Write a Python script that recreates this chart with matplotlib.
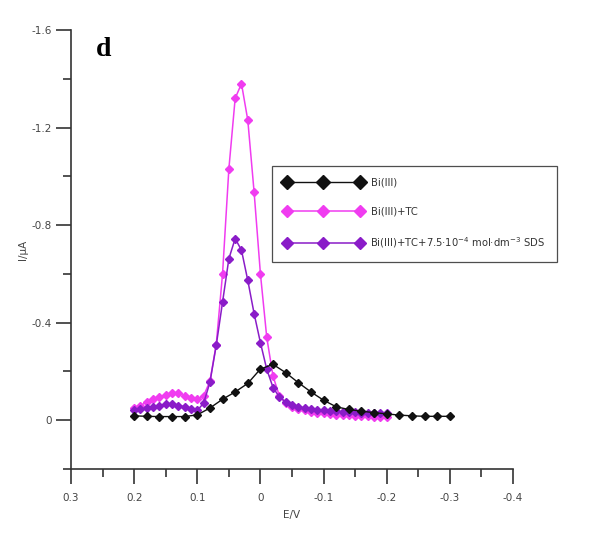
import numpy as np
import matplotlib
matplotlib.use("Agg")
import matplotlib.pyplot as plt
from matplotlib.ticker import MultipleLocator

# ---- data ----
E_bi = [0.20, 0.18, 0.16, 0.14, 0.12, 0.10, 0.08, 0.06, 0.04, 0.02, 0.00,
        -0.02, -0.04, -0.06, -0.08, -0.10, -0.12, -0.14, -0.16, -0.18, -0.20,
        -0.22, -0.24, -0.26, -0.28, -0.30]
I_bi = [-0.018, -0.016, -0.015, -0.015, -0.015, -0.022, -0.050, -0.086, -0.116, -0.151, -0.210,
        -0.229, -0.195, -0.154, -0.116, -0.082, -0.055, -0.044, -0.037, -0.031, -0.026,
        -0.021, -0.018, -0.016, -0.016, -0.016]

E_tc = [0.20, 0.19, 0.18, 0.17, 0.16, 0.15, 0.14, 0.13, 0.12, 0.11, 0.10,
        0.09, 0.08, 0.07, 0.06, 0.05, 0.04, 0.03, 0.02, 0.01, 0.00,
        -0.01, -0.02, -0.03, -0.04, -0.05, -0.06, -0.07, -0.08, -0.09, -0.10,
        -0.11, -0.12, -0.13, -0.14, -0.15, -0.16, -0.17, -0.18, -0.19, -0.20]
I_tc = [-0.050, -0.060, -0.075, -0.085, -0.095, -0.105, -0.110, -0.110, -0.100, -0.090, -0.085,
        -0.100, -0.160, -0.310, -0.600, -1.030, -1.320, -1.380, -1.230, -0.935, -0.600,
        -0.340, -0.180, -0.100, -0.070, -0.055, -0.045, -0.040, -0.035, -0.030, -0.028,
        -0.025, -0.023, -0.021, -0.020, -0.018, -0.017, -0.016, -0.015, -0.015, -0.015]

E_sds = E_tc
I_sds = [-0.040, -0.045, -0.050, -0.055, -0.060, -0.065, -0.065, -0.060, -0.055, -0.045, -0.040,
         -0.070, -0.155, -0.307, -0.484, -0.662, -0.745, -0.697, -0.573, -0.437, -0.318,
         -0.209, -0.134, -0.095, -0.075, -0.062, -0.055, -0.050, -0.046, -0.043, -0.040,
         -0.038, -0.036, -0.034, -0.033, -0.032, -0.031, -0.030, -0.029, -0.028, -0.028]

labels = ["Bi(III)", "Bi(III)+TC", "Bi(III)+TC+7.5·10$^{-4}$ mol·dm$^{-3}$ SDS"]
colors = ["#111111", "#f03cf0", "#8a1cc8"]

x_ticks = [0.3, 0.2, 0.1, 0.0, -0.1, -0.2, -0.3, -0.4]
x_ticklabels = ["0.3", "0.2", "0.1", "0", "-0.1", "-0.2", "-0.3", "-0.4"]
y_ticks = [-1.6, -1.2, -0.8, -0.4, 0.0]
y_ticklabels = ["-1.6", "-1.2", "-0.8", "-0.4", "0"]

# ---- figure ----
fig = plt.figure(figsize=(5.9, 5.4), dpi=100)
ax = fig.add_axes([71/590, 1-469/540, (513-71)/590, (469-30)/540])

ax.plot(E_tc, I_tc, color=colors[1], lw=1.1, marker="D", ms=3.6, mec=colors[1], label=labels[1], zorder=2)
ax.plot(E_sds, I_sds, color=colors[2], lw=1.1, marker="D", ms=3.6, mec=colors[2], label=labels[2], zorder=3)
ax.plot(E_bi, I_bi, color=colors[0], lw=1.0, marker="D", ms=4.0, mec=colors[0], label=labels[0], zorder=4)

ax.set_xlim(0.3, -0.4)
ax.set_ylim(0.2, -1.6)
ax.set_xticks(x_ticks)
ax.set_xticklabels(x_ticklabels)
ax.set_yticks(y_ticks)
ax.set_yticklabels(y_ticklabels)
ax.xaxis.set_minor_locator(MultipleLocator(0.05))
ax.yaxis.set_minor_locator(MultipleLocator(0.2))

for s in ["top", "right"]:
    ax.spines[s].set_visible(False)
for s in ["left", "bottom"]:
    ax.spines[s].set_linewidth(1.2)
    ax.spines[s].set_color("#333333")

ax.tick_params(axis="both", which="major", direction="out", length=10.5, width=1.2,
               color="#333333", labelsize=7.5, labelcolor="#444444")
ax.tick_params(axis="both", which="minor", direction="out", length=5.5, width=1.2, color="#333333")
ax.tick_params(axis="x", which="major", pad=7)
ax.tick_params(axis="y", which="major", pad=3)

ax.set_xlabel("E/V", fontsize=7.5, color="#444444", labelpad=5)
ax.set_ylabel("I/μA", fontsize=7.5, color="#444444", labelpad=3)

fig.text(104/590, 1-50/540, "d", fontsize=20, fontweight="bold",
         family=["Liberation Serif", "DejaVu Serif"], ha="center", va="center")

h, l = ax.get_legend_handles_labels()
order = [2, 0, 1]
leg = fig.legend([h[i] for i in order], [l[i] for i in order],
                 loc="upper left", bbox_to_anchor=(272/590, 1-166/540),
                 numpoints=3, markerscale=1.7, fontsize=7.2, handlelength=7.9,
                 labelspacing=1.9, borderpad=1.15, fancybox=False, frameon=True,
                 edgecolor="#222222", handletextpad=0.8, borderaxespad=0)
leg.get_frame().set_linewidth(0.9)
for t in leg.get_texts():
    t.set_color("#333333")

fig.savefig("out.png", dpi=100)
